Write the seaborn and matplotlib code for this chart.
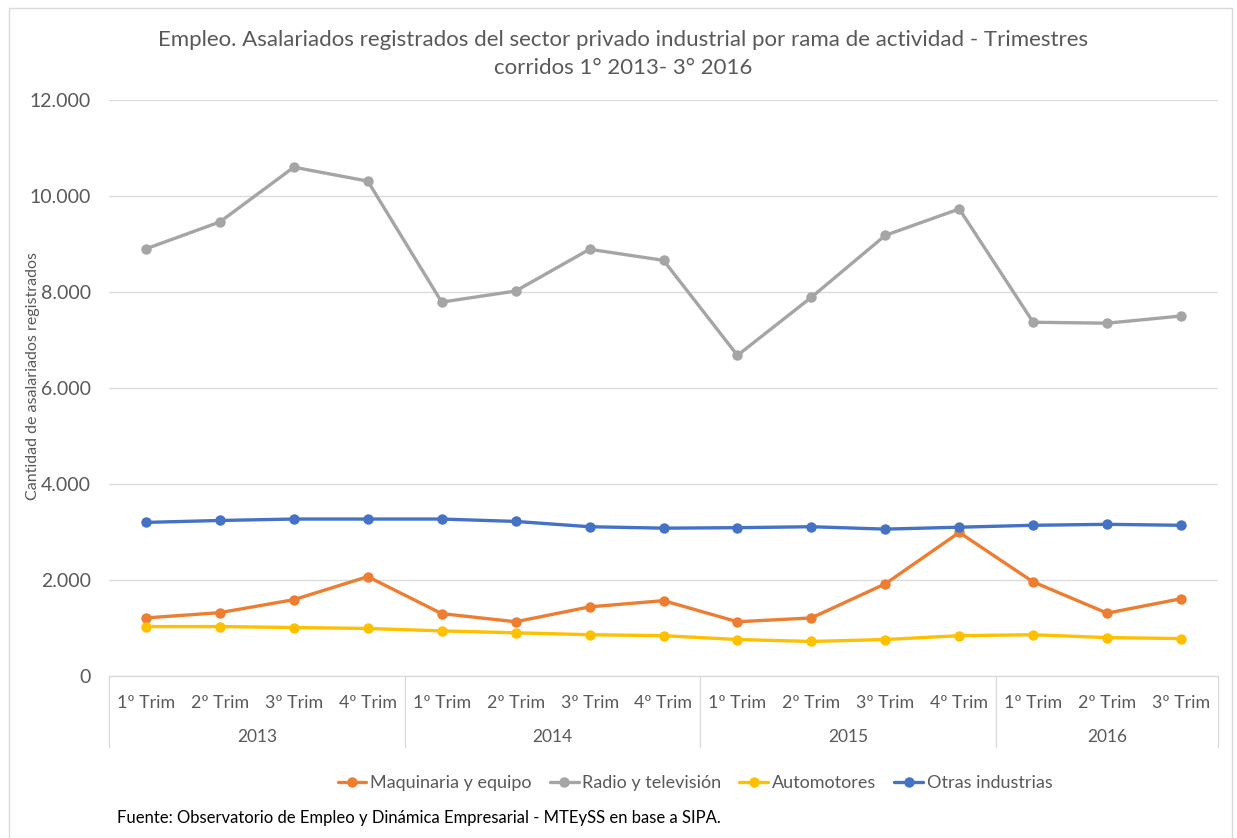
import numpy as np
import pandas as pd
import seaborn as sns
import matplotlib.pyplot as plt
from matplotlib.ticker import FuncFormatter
from matplotlib.patches import Rectangle
from matplotlib.lines import Line2D

# Data
years = ['2013', '2014', '2015', '2016']
quarters = ['1º Trim', '2º Trim', '3º Trim', '4º Trim',
            '1º Trim', '2º Trim', '3º Trim', '4º Trim',
            '1º Trim', '2º Trim', '3º Trim', '4º Trim',
            '1º Trim', '2º Trim', '3º Trim']
quarters_per_year = [4, 4, 4, 3]

maquinaria = [1210, 1320, 1590, 2070, 1300, 1130, 1440, 1570,
              1130, 1210, 1920, 2990, 1960, 1310, 1610]
radio_tv = [8900, 9460, 10600, 10310, 7790, 8020, 8890, 8660,
            6680, 7890, 9180, 9730, 7370, 7350, 7500]
automotores = [1030, 1030, 1010, 990, 940, 900, 860, 840,
               760, 720, 760, 840, 860, 800, 780]
otras = [3200, 3240, 3270, 3270, 3270, 3220, 3110, 3080,
         3090, 3110, 3060, 3100, 3140, 3160, 3140]

series_names = ['Maquinaria y equipo', 'Radio y televisión', 'Automotores', 'Otras industrias']
series_vals = [maquinaria, radio_tv, automotores, otras]
colors = ['#ED7D31', '#A5A5A5', '#FFC000', '#4472C4']

title = ('Empleo. Asalariados registrados del sector privado industrial por rama de actividad - Trimestres\n'
         'corridos 1° 2013- 3° 2016')
source = 'Fuente: Observatorio de Empleo y Dinámica Empresarial - MTEySS en base a SIPA.'

rows = []
for name, vals in zip(series_names, series_vals):
    for i, v in enumerate(vals):
        rows.append({'pos': i, 'valor': v, 'serie': name})
df = pd.DataFrame(rows)

sns.set_theme(style='white')
plt.rcParams['font.family'] = ['Lato', 'DejaVu Sans']
txt = '#595959'
grid_c = '#D9D9D9'

W, H = 1237, 838
fig = plt.figure(figsize=(W / 100, H / 100), dpi=100)
fig.patch.set_facecolor('white')
fig.patches.append(Rectangle((9 / W, -0.01), (1232 - 9) / W, 1 - 8 / H + 0.01,
                             transform=fig.transFigure, fill=False,
                             edgecolor='#D9D9D9', lw=1.0))

left, right, top, bottom = 109, 1218, 100, 676
ax = fig.add_axes([left / W, 1 - bottom / H, (right - left) / W, (bottom - top) / H])

sns.lineplot(data=df, x='pos', y='valor', hue='serie', hue_order=series_names,
             palette=colors, marker='o', markersize=7.5, markeredgewidth=0,
             linewidth=2.4, ax=ax, legend=False)

ax.set_ylim(0, 12000)
ax.set_xlim(-0.5, len(quarters) - 0.5)
ax.set_yticks(np.arange(0, 12001, 2000))
ax.yaxis.set_major_formatter(FuncFormatter(lambda v, p: f'{v:,.0f}'.replace(',', '.')))
ax.grid(axis='y', color=grid_c, lw=0.9)
ax.set_axisbelow(True)
for s in ['top', 'right', 'left']:
    ax.spines[s].set_visible(False)
ax.spines['bottom'].set_color(grid_c)
ax.spines['bottom'].set_linewidth(0.9)
ax.tick_params(axis='y', length=0, pad=13, labelsize=14, labelcolor=txt)

ax.set_xticks(range(len(quarters)))
ax.set_xticklabels(quarters)
ax.tick_params(axis='x', length=0, pad=14, labelsize=12.8, labelcolor=txt)
ax.set_xlabel('')
ax.set_ylabel('Cantidad de asalariados registrados', fontsize=11.5, color=txt)
ax.yaxis.set_label_coords((40 - left) / (right - left), (bottom - 376) / (bottom - top))

# year groups and separators
trans = ax.get_xaxis_transform()
sep_bottom = -(747 - 676) / (bottom - top)
year_y = -(737 - 676) / (bottom - top)
start = -0.5
ax.plot([start, start], [0, sep_bottom], transform=trans, color=grid_c, lw=0.9, clip_on=False)
for yr, n in zip(years, quarters_per_year):
    end = start + n
    ax.plot([end, end], [0, sep_bottom], transform=trans, color=grid_c, lw=0.9, clip_on=False)
    ax.text((start + end) / 2, year_y, yr, transform=trans, ha='center', va='center',
            fontsize=12.5, color=txt)
    start = end

fig.text(623 / W, 1 - 54 / H, title, ha='center', va='center', fontsize=16,
         color=txt, linespacing=1.45)

handles = [Line2D([], [], color=c, lw=2.4, marker='o', markersize=7.5, markeredgewidth=0)
           for c in colors]
fig.legend(handles, series_names, loc='center', bbox_to_anchor=(695 / W, 1 - 783 / H),
           ncol=4, frameon=False, fontsize=13, labelcolor=txt, handlelength=1.6,
           handletextpad=0.2, columnspacing=1.0)

fig.text(117 / W, 1 - 818 / H, source, ha='left', va='center', fontsize=12, color='black')

fig.savefig('out.png', dpi=100)
